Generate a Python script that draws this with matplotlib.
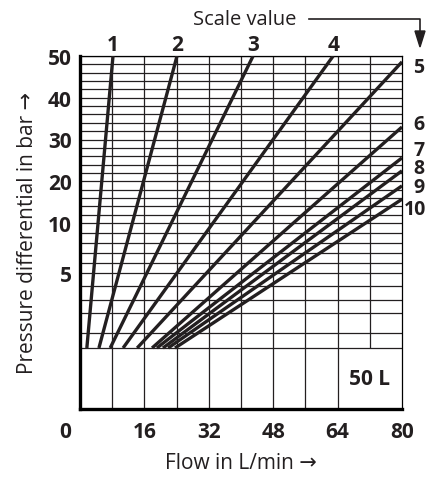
import numpy as np
import matplotlib
matplotlib.use("Agg")
from matplotlib import pyplot as plt
from matplotlib.lines import Line2D
from matplotlib.transforms import offset_copy

plt.rcParams['font.family'] = ['Open Sans', 'DejaVu Sans']

# curves: start on the zero line, end at the top (50 bar) or at the right edge (80 L/min)
scale_values = ['1', '2', '3', '4', '5', '6', '7', '8', '9', '10']
flow_start = [1.7, 4.7, 7.5, 10.7, 14.2, 17.9, 19.1, 20.6, 21.9, 23.6]
flow_end = [8.2, 24.1, 43.0, 62.9, 80, 80, 80, 80, 80, 80]
pressure_end = [50, 50, 50, 50, 48.6, 33.0, 25.6, 22.5, 18.9, 15.7]

x_ticks = [0, 16, 32, 48, 64, 80]
y_ticks = [5, 10, 20, 30, 40, 50]
x_grid = [8, 16, 24, 32, 40, 48, 56, 64, 72]
y_grid = list(range(1, 10)) + list(range(10, 51, 2))

# the printed pressure axis is neither linear nor log: piecewise mapping
scale_p = [-4, 0, 1, 2, 3, 4, 5, 10, 50]
scale_pos = [0, 61, 76, 96, 109, 123, 136, 186, 353]

def fwd(p):
    return np.interp(p, scale_p, scale_pos)

def inv(v):
    return np.interp(v, scale_pos, scale_p)

fig = plt.figure(figsize=(4.41, 4.81), dpi=100)
ax = fig.add_axes([80 / 441, 71 / 481, 322 / 441, 353 / 481])
ax.set_yscale('function', functions=(fwd, inv))
ax.set_xlim(0, 80)
ax.set_ylim(-4, 50)

# grid
ax.hlines(y_grid, 0, 80, color='#231f20', lw=0.9, zorder=1)
ax.hlines(0, 0, 80, color='#231f20', lw=0.9, zorder=1)
ax.vlines(x_grid, 0, 50, color='#231f20', lw=0.9, zorder=1)
ax.vlines([x for x in x_grid if x <= 64], -4, 0, color='#231f20', lw=0.9, zorder=1)

for s in ['top', 'right']:
    ax.spines[s].set_linewidth(0.9)
for s in ['left', 'bottom']:
    ax.spines[s].set_linewidth(2.4)

for i in range(len(scale_values)):
    ax.plot([flow_start[i], flow_end[i]], [0, pressure_end[i]], color='#231f20', lw=2.4,
            solid_capstyle='butt', zorder=3)

# curve numbers
fs = 15
lab_dy = [0, 0, 0, 0, -4, 2, 6, 2, -1, -7]
for i, t in enumerate(scale_values):
    if pressure_end[i] >= 50:
        tr = offset_copy(ax.transData, fig=fig, x=0, y=1, units='points')
        ax.text(flow_end[i], 50, t, transform=tr, ha='center', va='bottom',
                fontsize=fs, fontweight='bold', color='#231f20')
    else:
        tr = offset_copy(ax.transData, fig=fig, x=8 if t != '10' else 1, y=lab_dy[i], units='points')
        ax.text(80, pressure_end[i], t, transform=tr, ha='left', va='center',
                fontsize=14, fontweight='bold', color='#231f20')

ax.set_xticks(x_ticks)
ax.set_xticklabels([str(v) for v in x_ticks], fontsize=fs, fontweight='bold', color='#231f20')
ax.set_yticks(y_ticks)
ax.set_yticklabels([str(v) for v in y_ticks], fontsize=fs, fontweight='bold', color='#231f20')
ax.yaxis.set_minor_locator(matplotlib.ticker.NullLocator())
ax.tick_params(axis='x', length=0, pad=9)
ax.tick_params(axis='y', length=0, pad=6)
lbl0 = ax.get_xticklabels()[0]
lbl0.set_transform(lbl0.get_transform() + matplotlib.transforms.ScaledTranslation(-15 / 100, 0, fig.dpi_scale_trans))

ax.set_xlabel('Flow in L/min →', fontsize=15, color='#231f20', labelpad=7)
ax.set_ylabel('Pressure differential in bar →', fontsize=15, color='#231f20', labelpad=7)

ax.text(77, -2, '50 L', ha='right', va='center', fontsize=fs, fontweight='bold', color='#231f20')

# "Scale value" pointer
fig.text(245 / 441, 1 - 20 / 481, 'Scale value', ha='center', va='center', fontsize=14.5, color='#231f20')
fig.add_artist(Line2D([309 / 441, 420 / 441, 420 / 441], [1 - 20 / 481, 1 - 20 / 481, 1 - 34 / 481],
                      transform=fig.transFigure, color='#231f20', lw=1.2))
fig.add_artist(matplotlib.patches.Polygon([[415 / 441, 1 - 32 / 481], [425 / 441, 1 - 32 / 481],
                                           [420 / 441, 1 - 48 / 481]], closed=True,
                                          transform=fig.transFigure, color='#231f20'))

fig.savefig('out.png', dpi=100)
